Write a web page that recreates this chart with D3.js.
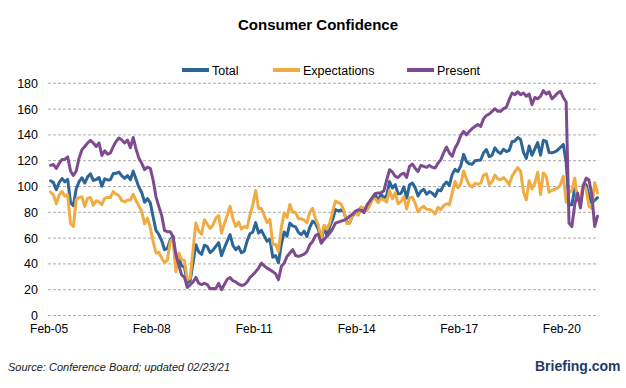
<!DOCTYPE html>
<html>
<head>
<meta charset="utf-8">
<script src="https://cdn.jsdelivr.net/npm/d3@7"></script>
<style>
  body { margin: 0; background: #ffffff; }
  svg { display: block; }
  text { font-family: "Liberation Sans", Arial, sans-serif; }
</style>
</head>
<body>
<svg id="chart" width="626" height="388"></svg>
<script>
// ---------------- DATA ----------------
const firstMonth = "2005-02";           // monthly series, Feb-05 .. Feb-21
const xTickLabels = ["Feb-05", "Feb-08", "Feb-11", "Feb-14", "Feb-17", "Feb-20"];
const yTicks = [0, 20, 40, 60, 80, 100, 120, 140, 160, 180];
const seriesNames = ["Total", "Expectations", "Present"];

const total = [
  104.4,103.0,97.5,103.1,106.2,103.6,105.5,87.5,85.2,98.3,103.8,
  106.8,102.7,107.5,109.8,104.7,105.4,107.0,100.2,105.9,105.1,105.3,110.0,
  110.2,111.2,108.2,106.3,108.5,105.3,111.9,105.6,99.5,95.2,87.8,90.6,
  87.3,76.4,65.9,62.8,58.1,51.0,51.9,58.5,61.4,38.8,44.7,38.6,
  37.4,25.3,26.9,40.8,54.8,49.3,47.4,54.5,53.4,48.7,50.6,53.6,
  56.5,46.4,52.3,57.7,62.7,54.3,51.0,53.2,48.6,49.9,57.8,63.4,
  64.8,72.0,63.8,66.0,61.7,57.6,59.2,45.2,46.4,40.9,55.2,64.8,
  61.5,71.6,69.5,68.7,64.4,62.7,65.4,61.3,68.4,73.1,71.5,66.7,
  58.4,68.0,61.9,69.0,74.3,82.1,81.0,81.8,80.2,72.4,72.0,77.5,
  79.4,78.3,83.9,81.7,82.2,86.4,90.3,93.4,89.0,94.1,91.0,93.1,
  103.8,98.8,101.4,94.3,94.6,99.8,91.0,101.3,102.6,99.1,92.6,96.3,
  97.8,94.0,96.1,94.7,92.4,97.4,96.7,101.1,103.5,100.8,109.4,113.3,
  111.6,116.1,124.9,119.4,117.6,117.3,120.0,120.4,120.6,126.2,128.6,123.1,
  124.3,130.0,127.0,125.6,128.8,127.1,127.9,134.7,135.3,137.9,136.4,126.6,
  121.7,131.4,124.2,129.2,134.1,124.3,135.8,135.1,126.3,126.1,126.8,128.2,
  130.4,132.6,118.8,85.7,85.9,98.3,91.7,86.3,101.3,101.4,92.9,87.1,
  89.3,91.3
];

const expectations = [
  95.7,93.6,86.5,93.4,96.2,92.5,93.7,71,69,90,91.5,
  92,84.5,91,91.5,85.5,89,88,86,91,91.5,91.5,96,
  94,93,89,88,89.5,89.5,94,89,85,80.5,71,75.5,
  68,57.3,48.5,49,44.5,41,43,57,60,34,48.5,43.3,
  42.7,27.7,29,50.7,71.7,65.5,63,74.2,71,67.4,70.3,75.5,
  77.5,64,71.2,77.5,84.8,75,69,72.5,67,69,68,78,
  86,97,83,83,77.5,72,74.5,55,55.3,49.7,68,79.5,
  76,86,80,80,75,75,74,72,80,83,75,70,
  60,70,67,71.5,80.5,88.7,87.5,86.4,81,71.2,71.5,78.4,
  79.2,77.7,84,83.4,81.4,85,90.5,90.5,87.5,90.7,89.7,88,
  96.8,90.5,95.2,86.6,88.3,92,82.6,91.2,91.8,87,80.3,83.3,
  84.6,82.3,82.2,81,78.6,83.8,82,85.1,86.7,85.7,95,104,
  99,102,112,105.8,101.2,99.6,102.3,101.7,102.6,108.8,109.8,101.4,
  103.8,108.8,105.9,105.2,106.9,104.6,101.5,108,111.5,114.7,111.8,96,
  89.6,104.5,98,102.7,111,93.8,110.5,108,95.5,97,98,98.7,
  101.5,108,87.7,95,97,106.6,89.6,90,102,98,84.7,83,
  103,95
];

const present = [
  116.4,117,114,118,121,121,123,112,108.5,112,122,
  128.5,131,133.7,135.8,133.7,131,133.7,124,127.7,125,126,131,
  135,137.6,136,133.7,136,130,138,129,122,118,113,115,
  114,105,92,84.5,77.6,66,65,65,61,47,39,31.5,
  29.5,21.7,23.8,26,29.5,25,24,25,24,20.7,21,20.7,
  25,20,24,28,29.5,27,26,24.3,23.3,23.8,26,29.5,
  31.5,34,36.7,40.6,38.5,36.7,35.4,34,32.3,27.7,38,40.6,
  45.8,48.4,51,46.5,45.8,46.5,47.6,49.6,54.8,57.4,62,63,
  56,59,61.3,63.9,67.2,71.6,72.4,73.2,74,75,77,78.6,
  80.7,82,81.5,79.7,85.3,88.4,91.5,94.6,94.9,95.2,96.7,105.2,
  113,111.2,107.8,107,109.3,110.4,107,115.6,117.4,114,111.7,116.4,
  115.6,114.8,116.4,114.8,114.3,118,120.8,126.2,130.6,126,123.4,129.8,
  133.7,139.6,142.7,140,142.7,144.8,146.6,148,146.6,152.6,155,156.2,
  158.3,160.3,158.3,158.3,160.3,161.4,167.3,172.5,171.2,173.3,171.2,172.5,
  170,171.7,163.4,169,168,170,174.3,171.7,173.3,168,170,172.5,
  173.8,169,165.5,71.6,69,85.9,94.9,83.3,100.1,106.5,105.2,93.6,
  69,77
];

// ---------------- STYLE / LAYOUT ----------------
const colors = { "Total": "#2c6698", "Expectations": "#f0ac43", "Present": "#7e4b8e" };
const plot = { left: 50.6, right: 597.5, top: 83.3, bottom: 315.5, gridLeft: 48, gridRight: 598.5 };

const svg = d3.select("#chart");
const parseMonth = d3.timeParse("%Y-%m");
const fmtTick = d3.timeFormat("%b-%y");
const start = parseMonth(firstMonth);
const months = total.map((_, i) => d3.timeMonth.offset(start, i));
const keys = months.map(d => +d);

const x = d3.scalePoint().domain(keys).range([plot.left, plot.right]);
const y = d3.scaleLinear().domain([0, 180]).range([plot.bottom, plot.top]);

// Gridlines
svg.append("g")
  .selectAll("line")
  .data(yTicks)
  .join("line")
  .attr("x1", plot.gridLeft).attr("x2", plot.gridRight)
  .attr("y1", d => y(d)).attr("y2", d => y(d))
  .attr("stroke", "#ababab")
  .attr("stroke-width", 1)
  .attr("stroke-dasharray", "3,2");

// Y axis labels
const yAxis = d3.axisLeft(y).tickValues(yTicks).tickSize(0).tickPadding(0);
const gy = svg.append("g").attr("transform", "translate(38,0)").call(yAxis);
gy.select(".domain").remove();
gy.selectAll("text").attr("font-size", 12.5).attr("fill", "#000")
  .attr("font-family", "'Liberation Sans', Arial, sans-serif");

// X axis labels
const tickKeys = keys.filter(k => xTickLabels.includes(fmtTick(new Date(k))));
const xAxis = d3.axisBottom(x).tickValues(tickKeys).tickSize(0).tickPadding(0)
  .tickFormat(k => fmtTick(new Date(k)));
const gx = svg.append("g").attr("transform", "translate(-2,324)").call(xAxis);
gx.select(".domain").remove();
gx.selectAll("text").attr("font-size", 12).attr("fill", "#000")
  .attr("font-family", "'Liberation Sans', Arial, sans-serif");

// Lines
const seriesData = { "Total": total, "Expectations": expectations, "Present": present };
const line = d3.line().x((d, i) => x(keys[i])).y(d => y(d));
seriesNames.forEach(name => {
  svg.append("path")
    .datum(seriesData[name])
    .attr("fill", "none")
    .attr("stroke", colors[name])
    .attr("stroke-width", 3)
    .attr("stroke-linejoin", "round")
    .attr("stroke-linecap", "round")
    .attr("d", line);
});

// Title
svg.append("text")
  .attr("x", 318).attr("y", 30)
  .attr("text-anchor", "middle")
  .attr("font-size", 15).attr("font-weight", "bold")
  .text("Consumer Confidence");

// Legend
const legendPos = [
  { name: "Total", x: 182 },
  { name: "Expectations", x: 273 },
  { name: "Present", x: 407 }
];
const lg = svg.append("g");
legendPos.forEach(p => {
  lg.append("line")
    .attr("x1", p.x).attr("x2", p.x + 27)
    .attr("y1", 70).attr("y2", 70)
    .attr("stroke", colors[p.name]).attr("stroke-width", 4);
  lg.append("text")
    .attr("x", p.x + 30).attr("y", 74.5)
    .attr("font-size", 12.5)
    .text(p.name);
});

// Source
svg.append("text")
  .attr("x", 8).attr("y", 371)
  .attr("font-size", 11).attr("font-style", "italic").attr("fill", "#1a1a1a")
  .text("Source: Conference Board; updated 02/23/21");

// Brand
svg.append("text")
  .attr("x", 535).attr("y", 371)
  .attr("font-size", 14).attr("font-weight", "bold").attr("fill", "#1f3b6b")
  .text("Briefing.com");
</script>
</body>
</html>
